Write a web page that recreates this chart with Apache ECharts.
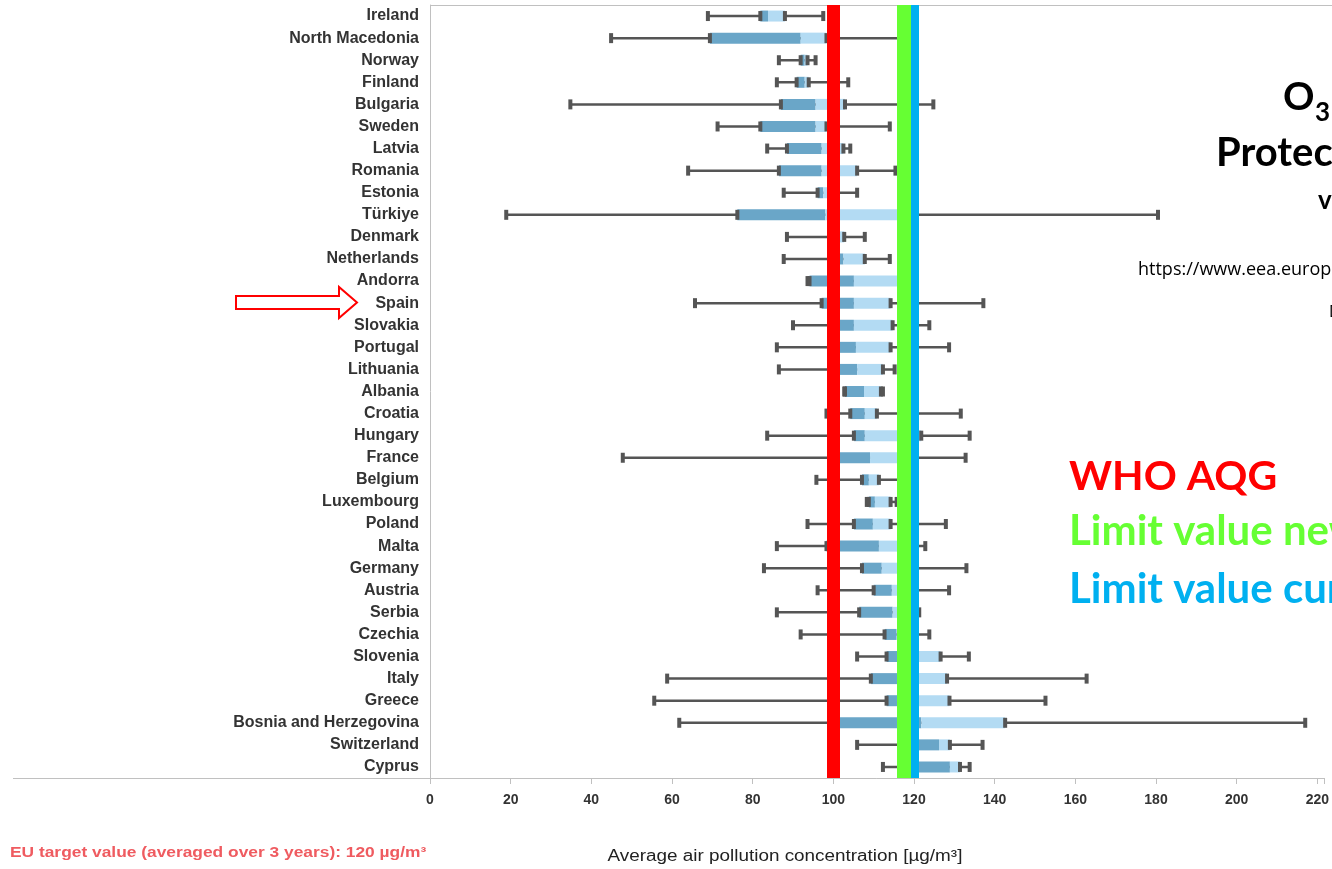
<!DOCTYPE html>
<html>
<head>
<meta charset="utf-8">
<script src="https://cdn.jsdelivr.net/npm/echarts@6/dist/echarts.min.js"></script>
<style>
  html, body { margin: 0; padding: 0; background: #fff; }
  #chart { width: 1332px; height: 869px; }
</style>
</head>
<body>
<div id="chart"></div>
<script>
// countries, top to bottom
const countries = ['Ireland', 'North Macedonia', 'Norway', 'Finland', 'Bulgaria', 'Sweden', 'Latvia',
  'Romania', 'Estonia', 'Türkiye', 'Denmark', 'Netherlands', 'Andorra', 'Spain', 'Slovakia', 'Portugal',
  'Lithuania', 'Albania', 'Croatia', 'Hungary', 'France', 'Belgium', 'Luxembourg', 'Poland', 'Malta',
  'Germany', 'Austria', 'Serbia', 'Czechia', 'Slovenia', 'Italy', 'Greece', 'Bosnia and Herzegovina',
  'Switzerland', 'Cyprus'];

// station statistics in µg/m³
const minVals = [68.9, 44.9, 86.5, 86.0, 34.8, 71.3, 83.6, 64.0, 87.7, 18.9, 88.5, 87.7, 93.6, 65.7, 90.0, 86.0,
  86.5, 102.7, 98.3, 83.6, 47.8, 95.8, 108.3, 93.6, 86.0, 82.8, 96.1, 86.0, 91.9, 105.9, 58.8, 55.6, 61.8,
  105.9, 112.3];
const q1Vals = [81.9, 69.4, 91.9, 90.9, 87.0, 81.9, 88.5, 86.5, 96.1, 76.2, 100.0, 100.0, 94.1, 97.1, 99.5, 99.5,
  99.5, 102.9, 104.2, 105.1, 100.0, 107.1, 108.8, 105.1, 98.3, 107.1, 110.0, 106.4, 112.7, 113.2, 109.3, 113.2,
  100.0, 119.0, 119.0];
const medianVals = [83.8, 91.9, 92.9, 92.9, 95.6, 95.6, 97.1, 97.1, 97.5, 98.0, 101.5, 102.5, 105.1, 105.1, 105.1,
  105.6, 105.9, 107.6, 107.8, 107.8, 109.1, 108.8, 110.3, 109.8, 111.3, 112.0, 114.5, 114.7, 115.7, 117.0, 117.0,
  117.0, 121.8, 126.2, 128.9];
const q3Vals = [88.0, 98.3, 93.6, 93.9, 102.9, 98.3, 102.5, 105.9, 99.0, 117.0, 102.7, 107.8, 116.5, 114.2, 114.7,
  114.2, 112.3, 111.8, 110.8, 121.8, 117.0, 111.3, 114.2, 114.2, 118.0, 117.0, 117.5, 117.0, 118.0, 126.6, 128.2,
  128.8, 142.6, 128.9, 131.4];
const maxVals = [97.5, 117.0, 95.6, 103.7, 124.8, 114.0, 104.2, 115.4, 105.9, 180.5, 107.8, 114.0, 117.0, 137.2,
  123.8, 128.7, 115.2, 112.3, 131.6, 133.8, 132.8, 117.0, 115.7, 127.9, 122.8, 133.0, 128.7, 121.3, 123.8, 133.6,
  162.8, 152.6, 217.0, 137.0, 133.8];

const xTicks = [0, 20, 40, 60, 80, 100, 120, 140, 160, 180, 200, 220];
const whoAqg = 100;
const limitNew = 117.5;
const limitCurrent = 120;

const chart = echarts.init(document.getElementById('chart'), null, { renderer: 'canvas' });

const boxData = countries.map((c, i) => [i, minVals[i], q1Vals[i], medianVals[i], q3Vals[i], maxVals[i]]);

function renderBox(params, api) {
  const idx = api.value(0);
  const pMin = api.coord([api.value(1), idx]);
  const pQ1 = api.coord([api.value(2), idx]);
  const pMed = api.coord([api.value(3), idx]);
  const pQ3 = api.coord([api.value(4), idx]);
  const pMax = api.coord([api.value(5), idx]);
  const cy = pMin[1];
  const bh = 11;
  const ch = 10;
  const cw = 4;
  const grey = '#555555';
  const cap = (x) => ({
    type: 'rect',
    shape: { x: x - cw / 2, y: cy - ch / 2, width: cw, height: ch },
    style: { fill: grey }
  });
  return {
    type: 'group',
    children: [
      { type: 'line', shape: { x1: pMin[0], y1: cy, x2: pMax[0], y2: cy }, style: { stroke: grey, lineWidth: 2.5 } },
      { type: 'rect', shape: { x: pQ1[0], y: cy - bh / 2, width: pMed[0] - pQ1[0], height: bh }, style: { fill: '#6aa6c8' } },
      { type: 'rect', shape: { x: pMed[0], y: cy - bh / 2, width: pQ3[0] - pMed[0], height: bh }, style: { fill: '#b3dbf3' } },
      cap(pMin[0]), cap(pQ1[0]), cap(pQ3[0]), cap(pMax[0])
    ]
  };
}

const bigFont = 'Lato, "Open Sans", sans-serif';
const axisFont = '"Liberation Sans", Arial, sans-serif';

const option = {
  animation: false,
  backgroundColor: '#ffffff',
  grid: { left: 430, right: 0, top: 5, height: 773, containLabel: false },
  xAxis: {
    type: 'value',
    min: 0,
    max: 221.6,
    interval: 20,
    splitLine: { show: false },
    axisLine: { show: true, lineStyle: { color: '#c0c0c0', width: 1 } },
    axisTick: { show: true, length: 6, lineStyle: { color: '#c0c0c0' } },
    axisLabel: {
      margin: 15,
      fontSize: 14,
      fontWeight: 'bold',
      color: '#333',
      fontFamily: axisFont,
      formatter: (v) => (xTicks.indexOf(v) >= 0 ? String(v) : '')
    }
  },
  yAxis: {
    type: 'category',
    data: countries,
    inverse: true,
    axisLine: { show: true, lineStyle: { color: '#c0c0c0', width: 1 } },
    axisTick: { show: false },
    axisLabel: {
      margin: 11,
      fontSize: 16,
      fontWeight: 'bold',
      color: '#333',
      fontFamily: axisFont,
      interval: 0
    }
  },
  series: [
    {
      type: 'custom',
      renderItem: renderBox,
      encode: { x: [1, 2, 3, 4, 5], y: 0 },
      data: boxData,
      z: 3
    },
    {
      type: 'line',
      data: [],
      z: 10,
      markLine: {
        silent: true,
        symbol: 'none',
        label: { show: false },
        data: [
          { xAxis: whoAqg, lineStyle: { color: '#ff0000', width: 13, type: 'solid' } },
          { xAxis: limitCurrent, lineStyle: { color: '#00b0f0', width: 9, type: 'solid' } },
          { xAxis: limitNew, lineStyle: { color: '#66ff33', width: 14, type: 'solid' } }
        ]
      }
    }
  ],
  graphic: [
    { type: 'line', shape: { x1: 13, y1: 778.5, x2: 430, y2: 778.5 }, style: { stroke: '#c0c0c0', lineWidth: 1 } },
    { type: 'line', shape: { x1: 430, y1: 5.5, x2: 1332, y2: 5.5 }, style: { stroke: '#c0c0c0', lineWidth: 1 } },
    {
      type: 'polygon',
      shape: { points: [[236, 296], [339, 296], [339, 287], [357, 302.5], [339, 318], [339, 309], [236, 309]] },
      style: { fill: '#ffffff', stroke: '#ff0000', lineWidth: 2 }
    },
    {
      type: 'text', x: 10, y: 853, scaleX: 1.24,
      style: { text: 'EU target value (averaged over 3 years): 120 µg/m³', fill: '#ef5b60', font: 'bold 14px ' + axisFont, textVerticalAlign: 'middle' }
    },
    {
      type: 'text', x: 785, y: 857, scaleX: 1.18,
      style: { text: 'Average air pollution concentration [µg/m³]', fill: '#222', font: '16px ' + axisFont, textAlign: 'center', textVerticalAlign: 'middle' }
    },
    { type: 'text', x: 1283, y: 117, style: { text: 'O', fill: '#000', font: 'bold 39px ' + bigFont, textVerticalAlign: 'bottom' } },
    { type: 'text', x: 1315, y: 126, style: { text: '3', fill: '#000', font: 'bold 26px ' + bigFont, textVerticalAlign: 'bottom' } },
    { type: 'text', x: 1216, y: 173, style: { text: 'Protection of health', fill: '#000', font: 'bold 40px ' + bigFont, textVerticalAlign: 'bottom' } },
    { type: 'text', x: 1318, y: 214, style: { text: 'vs. limit values', fill: '#000', font: 'bold 26px ' + bigFont, textVerticalAlign: 'bottom' } },
    { type: 'text', x: 1138, y: 279, style: { text: 'https://www.eea.europa.eu/en/analysis/maps-and-charts', fill: '#000', font: '18px "Open Sans", sans-serif', textVerticalAlign: 'bottom' } },
    { type: 'text', x: 1329, y: 320, style: { text: 'Data: EEA', fill: '#000', font: '16px "Open Sans", sans-serif', textVerticalAlign: 'bottom' } },
    { type: 'text', x: 1069, y: 497, style: { text: 'WHO AQG', fill: '#ff0000', font: 'bold 41px ' + bigFont, textVerticalAlign: 'bottom' } },
    { type: 'text', x: 1069, y: 552, style: { text: 'Limit value new', fill: '#66ff33', font: 'bold 42px ' + bigFont, textVerticalAlign: 'bottom' } },
    { type: 'text', x: 1069, y: 610, style: { text: 'Limit value current', fill: '#00b0f0', font: 'bold 42px ' + bigFont, textVerticalAlign: 'bottom' } }
  ]
};

chart.setOption(option);
</script>
</body>
</html>
